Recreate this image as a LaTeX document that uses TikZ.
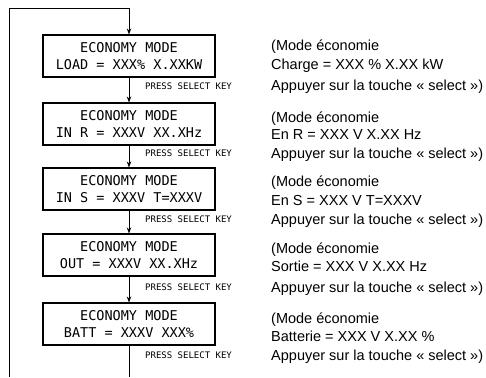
\documentclass[tikz,border=0pt]{standalone}
\usepackage{fontspec}
\setmainfont{Liberation Sans}
\newfontfamily\lcdfont{DejaVu Sans Mono}
\usetikzlibrary{arrows.meta}
\begin{document}
\begin{tikzpicture}[x=1pt,y=-1pt,
  screen/.style={draw, line width=1.1pt, minimum width=172pt, minimum height=42pt,
    inner sep=0pt, align=center, font=\lcdfont\fontsize{13.5}{17}\selectfont},
  keylabel/.style={anchor=base west, inner sep=0pt, font=\lcdfont\fontsize{9}{10}\selectfont},
  note/.style={anchor=base west, inner sep=0pt, font=\fontsize{14.5}{17}\selectfont},
  flow/.style={line width=0.8pt, -{Stealth[length=6pt,width=4.5pt]}},
  link/.style={line width=0.8pt},
]
\useasboundingbox (0,0) rectangle (486,377);

% display screens
\node[screen] (s1) at (129,56)  {ECONOMY MODE\\LOAD = XXX\% X.XXKW};
\node[screen] (s2) at (129,124) {ECONOMY MODE\\IN R = XXXV XX.XHz};
\node[screen] (s3) at (129,189) {ECONOMY MODE\\IN S = XXXV T=XXXV};
\node[screen] (s4) at (129,255) {ECONOMY MODE\\OUT = XXXV XX.XHz};
\node[screen] (s5) at (129,324) {ECONOMY MODE\\BATT = XXXV XXX\%};

% key prompts
\node[keylabel] (k1) at (145,89)  {PRESS SELECT KEY};
\node[keylabel] (k2) at (145,156) {PRESS SELECT KEY};
\node[keylabel] (k3) at (145,222) {PRESS SELECT KEY};
\node[keylabel] (k4) at (145,290) {PRESS SELECT KEY};
\node[keylabel] (k5) at (145,358) {PRESS SELECT KEY};

% French notes
\node[note] (n1a) at (271,51)  {(Mode économie};
\node[note] (n1b) at (271,70)  {Charge = XXX \% X.XX kW};
\node[note] (n1c) at (271,91)  {Appuyer sur la touche « select »)};
\node[note] (n2a) at (271,122) {(Mode économie};
\node[note] (n2b) at (271,139) {En R = XXX V X.XX Hz};
\node[note] (n2c) at (271,158) {Appuyer sur la touche « select »)};
\node[note] (n3a) at (271,186) {(Mode économie};
\node[note] (n3b) at (271,205) {En S = XXX V T=XXXV};
\node[note] (n3c) at (271,224) {Appuyer sur la touche « select »)};
\node[note] (n4a) at (271,253) {(Mode économie};
\node[note] (n4b) at (271,271) {Sortie = XXX V X.XX Hz};
\node[note] (n4c) at (271,292) {Appuyer sur la touche « select »)};
\node[note] (n5a) at (271,323) {(Mode économie};
\node[note] (n5b) at (271,341) {Batterie = XXX V X.XX \%};
\node[note] (n5c) at (271,360) {Appuyer sur la touche « select »)};

% flow between screens
\draw[flow] (s1) -- (s2);
\draw[flow] (s2) -- (s3);
\draw[flow] (s3) -- (s4);
\draw[flow] (s4) -- (s5);

% continuation below and return loop
\coordinate (edge) at (0,377);
\coordinate (ret) at (9,377);
\draw[link] (s5.south) -- (s5.south |- edge);
\draw[flow] (ret) |- ([yshift=26pt]s1.north) -- (s1.north);
\end{tikzpicture}
\end{document}
